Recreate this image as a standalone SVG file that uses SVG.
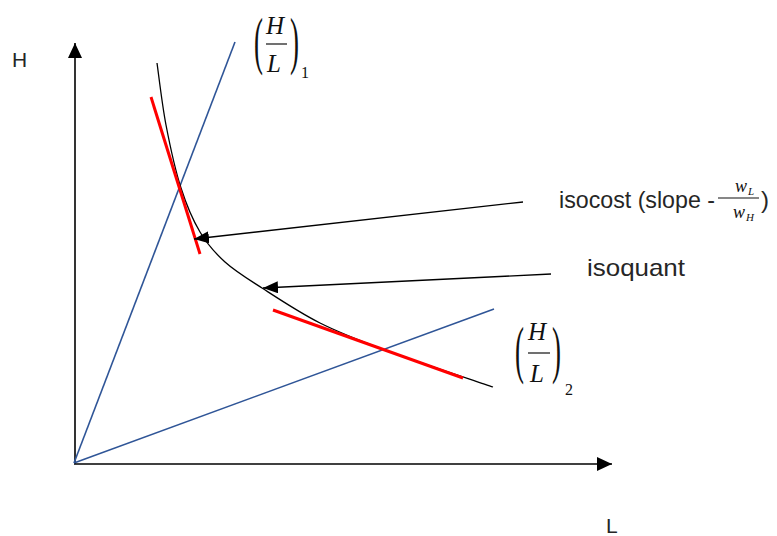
<svg xmlns="http://www.w3.org/2000/svg" width="777" height="536" viewBox="0 0 777 536">
<style>
.ax{stroke:#000;stroke-width:1.6;fill:none}
.ray{stroke:#2F5597;stroke-width:1.6;fill:none}
.tan{stroke:#FF0000;stroke-width:3;fill:none}
.crv{stroke:#000;stroke-width:1.3;fill:none}
.con{stroke:#000;stroke-width:1.3;fill:none}
.lbl{font-family:"Liberation Sans",Arial,sans-serif;fill:#262626}
.m{font-family:"Liberation Serif","Times New Roman",serif;font-style:italic;fill:#111}
.mu{font-family:"Liberation Serif","Times New Roman",serif;fill:#111}
.bar{stroke:#111;stroke-width:1.2}
</style>
<defs>
<marker id="axh" markerWidth="15" markerHeight="14" refX="15" refY="7" orient="auto" markerUnits="userSpaceOnUse"><path d="M0,0 L15,7 L0,14 z" fill="#000"/></marker>
<marker id="ah" markerWidth="15" markerHeight="12" refX="15" refY="6" orient="auto" markerUnits="userSpaceOnUse"><path d="M0,0 L15,6 L0,12 z" fill="#000"/></marker>
</defs>
<g id="axes">
<line class="ax" x1="75" y1="464" x2="75" y2="43" marker-end="url(#axh)"/>
<line class="ax" x1="74" y1="464" x2="612" y2="464" marker-end="url(#axh)"/>
<text class="lbl" x="12" y="67" font-size="21">H</text>
<text class="lbl" x="606" y="533" font-size="21">L</text>
</g>
<g id="ray1"><line class="ray" x1="74" y1="463" x2="235" y2="42"/></g>
<g id="ray2"><line class="ray" x1="74" y1="463" x2="494" y2="309"/></g>
<g id="isoquant-curve">
<path class="crv" d="M157,63 C158.5,73.3 162,104.2 166,125 C170,145.8 175.3,170.2 181,188 C186.7,205.8 192.7,219.7 200,232 C207.3,244.3 214.7,252.7 225,262 C235.3,271.3 246.2,277.8 262,288 C277.8,298.2 299.5,312.7 320,323 C340.5,333.3 356.2,339.3 385,350 C413.8,360.7 475,380.8 493,387"/>
</g>
<g id="isocost1"><line class="tan" x1="151" y1="97" x2="200" y2="254"/></g>
<g id="isocost2"><line class="tan" x1="273" y1="310" x2="463" y2="378"/></g>
<g id="connectors">
<line class="con" x1="523" y1="202" x2="194" y2="239" marker-end="url(#ah)"/>
<line class="con" x1="551" y1="274" x2="263" y2="288" marker-end="url(#ah)"/>
</g>
<g id="label-isocost">
<text class="lbl" x="559" y="208" font-size="24" textLength="156" lengthAdjust="spacingAndGlyphs">isocost (slope -</text>
<text class="m" x="735" y="192" font-size="18">w</text>
<text class="m" x="748" y="195" font-size="11">L</text>
<line class="bar" x1="718" y1="198" x2="759" y2="198"/>
<text class="m" x="733" y="218" font-size="18">w</text>
<text class="m" x="746" y="221" font-size="11">H</text>
<text class="lbl" x="761" y="208" font-size="24">)</text>
</g>
<g id="label-isoquant">
<text class="lbl" x="587" y="276" font-size="24" textLength="98" lengthAdjust="spacingAndGlyphs">isoquant</text>
</g>
<g id="label-HL1">
<text class="mu" transform="translate(254,62) scale(0.42,1)" font-size="64">(</text>
<text class="m" x="266" y="34" font-size="25">H</text>
<line class="bar" x1="266" y1="44" x2="287" y2="44"/>
<text class="m" x="267" y="72" font-size="25">L</text>
<text class="mu" transform="translate(290,62) scale(0.42,1)" font-size="64">)</text>
<text class="mu" x="301" y="78" font-size="16">1</text>
</g>
<g id="label-HL2">
<text class="mu" transform="translate(515,371) scale(0.42,1)" font-size="64">(</text>
<text class="m" x="528" y="340" font-size="25">H</text>
<line class="bar" x1="528" y1="353" x2="550" y2="353"/>
<text class="m" x="530" y="382" font-size="25">L</text>
<text class="mu" transform="translate(552,371) scale(0.42,1)" font-size="64">)</text>
<text class="mu" x="565" y="395" font-size="16">2</text>
</g>
</svg>
